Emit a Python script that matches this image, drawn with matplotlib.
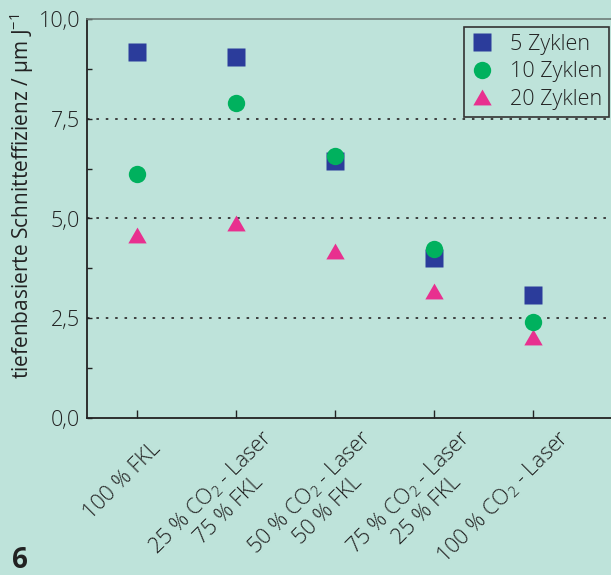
import matplotlib
matplotlib.use("Agg")
import matplotlib.pyplot as plt
from matplotlib.ticker import MultipleLocator, FixedLocator, FixedFormatter
from matplotlib.transforms import ScaledTranslation

plt.rcParams['font.family'] = ['Open Sans', 'DejaVu Sans']
plt.rcParams['font.weight'] = 'light'
plt.rcParams['mathtext.fontset'] = 'custom'
plt.rcParams['mathtext.rm'] = 'Open Sans:light'
plt.rcParams['mathtext.it'] = 'Open Sans:italic'
plt.rcParams['mathtext.default'] = 'regular'

# ---- data ----
categories = ["100 % FKL",
              "25 % CO$_2$ - Laser\n75 % FKL",
              "50 % CO$_2$ - Laser\n50 % FKL",
              "75 % CO$_2$ - Laser\n25 % FKL",
              "100 % CO$_2$ - Laser"]
zyklen_5 = [9.17, 9.05, 6.44, 4.01, 3.08]
zyklen_10 = [6.12, 7.89, 6.57, 4.24, 2.40]
zyklen_20 = [4.58, 4.88, 4.19, 3.19, 2.02]
series_labels = ["5 Zyklen", "10 Zyklen", "20 Zyklen"]
yticks = [0.0, 2.5, 5.0, 7.5, 10.0]
yticklabels = ["0,0", "2,5", "5,0", "7,5", "10,0"]
grid_levels = [2.5, 5.0, 7.5]
ylabel = "tiefenbasierte Schnitteffizienz / µm J$^{-1}$"
panel_label = "6"

BG = "#bee3da"
C_SQ = "#2b3c9b"
C_CI = "#00b15e"
C_TR = "#e8308f"
TXT = "#222222"

fig = plt.figure(figsize=(6.11, 5.75), dpi=100, facecolor=BG)
ax = fig.add_axes([87/611, 157/575, 524/611, 399/575])
ax.set_facecolor(BG)

x = list(range(len(categories)))
tri = [(-1, -0.866), (1, -0.866), (0, 0.866)]

for lv in grid_levels:
    ax.axhline(lv, color="#333333", lw=1.3, linestyle=(0, (1.4, 3.8)), zorder=1)

h5, = ax.plot(x, zyklen_5, linestyle='none', marker='s', ms=13, color=C_SQ, mec='none', zorder=3)
h20, = ax.plot(x, zyklen_20, linestyle='none', marker=tri, ms=13.2, color=C_TR, mec='none', zorder=3)
h10, = ax.plot(x, zyklen_10, linestyle='none', marker='o', ms=12.5, color=C_CI, mec='none', zorder=4)

ax.set_xlim(-0.506, 4.79)
ax.set_ylim(0, 10)

ax.spines['right'].set_visible(False)
ax.spines['top'].set_color("#6f7d79")
ax.spines['top'].set_linewidth(1.2)
for s in ('left', 'bottom'):
    ax.spines[s].set_color(TXT)
    ax.spines[s].set_linewidth(1.3)

ax.yaxis.set_major_locator(FixedLocator(yticks))
ax.yaxis.set_major_formatter(FixedFormatter(yticklabels))
ax.yaxis.set_minor_locator(MultipleLocator(1.25))
ax.tick_params(axis='y', which='both', direction='in', length=3.5, width=1.0,
               color=TXT, labelsize=15.5, pad=5, labelcolor=TXT)
ax.tick_params(axis='x', which='both', direction='in', length=5.8, width=1.0,
               color=TXT, labelsize=15.5, pad=0, labelcolor=TXT)

ax.set_xticks(x)
ax.set_xticklabels(categories, rotation=45, rotation_mode='anchor',
                   ha='right', va='top', multialignment='center')
for i, lab in enumerate(ax.get_xticklabels()):
    dx, dy = 0.247, -0.078
    if i == 0:
        dx, dy = 0.127, -0.198
    lab.set_transform(lab.get_transform() + ScaledTranslation(dx, dy, fig.dpi_scale_trans))

ax.set_ylabel(ylabel, fontsize=15, color=TXT)
ax.yaxis.set_label_coords(-0.097, 0.556)

leg = ax.legend([h5, h10, h20], series_labels, loc='upper right',
                bbox_to_anchor=(0.996, 0.98), borderaxespad=0, fontsize=15.5,
                frameon=True, fancybox=False, handlelength=1.0,
                handletextpad=0.8, borderpad=0.32, labelspacing=0.3,
                numpoints=1)
fr = leg.get_frame()
fr.set_facecolor(BG)
fr.set_edgecolor("#333333")
fr.set_linewidth(1.2)
fr.set_alpha(1)
for t in leg.get_texts():
    t.set_color(TXT)

fig.text(12/611, 7/575, panel_label, fontsize=20, fontweight='bold', color=TXT,
         ha='left', va='baseline')

fig.savefig("out.png", dpi=100, facecolor=BG)
